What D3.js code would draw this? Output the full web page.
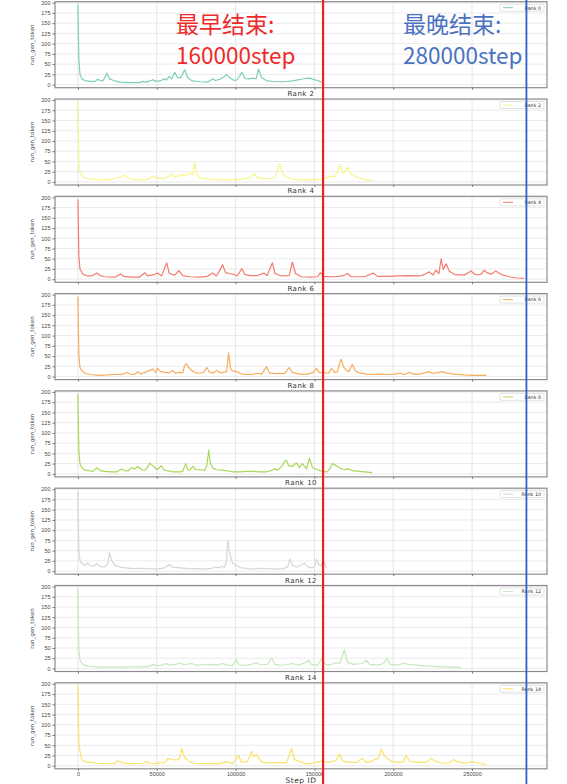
<!DOCTYPE html>
<html><head><meta charset="utf-8">
<script src="https://cdn.jsdelivr.net/npm/d3@7"></script>
<style>body{margin:0;background:#fff;overflow:hidden} svg{display:block}</style>
</head><body>
<script>
// ---- data (steps in thousands, value = run_gen_token) ----
const rankNames = ["Rank 0","Rank 2","Rank 4","Rank 6","Rank 8","Rank 10","Rank 12","Rank 14"];
const rankColors = ["#7dcfb6","#f6f68c","#f47c70","#f8ad5c","#a8d85a","#d6d6d6","#c6e8be","#fae36a"];

const rank0 = [[0,195],[0.3,120],[0.6,60],[1.3,25],[2.5,14],[4.4,10],[7.6,8],[10.8,8],[12.7,13],[14,10],[15.8,9],[18.4,28],[20,14],[23.4,9],[26.6,6],[33,5],[39,5],[41,8],[43,6],[45.6,9],[47.5,12],[49.4,8],[52,9],[55,14],[56,11],[58,20],[59.5,14],[61.4,30],[63,18],[65,16],[67.7,36],[69.6,18],[72,10],[77,7],[82,6],[85.5,14],[87,10],[90,13],[92.4,18],[94.3,25],[96,18],[99,10],[101,12],[104,30],[106,15],[108,14],[111,16],[113,14],[114.6,38],[116.5,17],[119.6,10],[124.7,7],[131,7],[136,9],[140.5,12],[143.7,15],[147,16],[149.4,13],[152,10],[154.5,6]];

const rank2 = [[0,195],[0.3,110],[0.6,50],[1.3,22],[3,12],[6,8],[11,6],[17,5],[21.5,6],[24.7,10],[27,12],[29.7,16],[31.6,10],[35,6],[42,5],[45.6,8],[47.5,15],[49.4,9],[52,10],[54.4,8],[57,12],[59.5,20],[61.4,12],[63.3,14],[65.8,18],[68.4,15],[71,22],[72.8,18],[74,48],[75.3,20],[77,10],[83.6,7],[90,5],[96,5],[102.5,6],[109,10],[112,20],[114,10],[118,8],[123,9],[125,12],[128,45],[130,18],[133,12],[136,7],[140.5,5],[147,5],[153,6],[157.6,10],[160.8,14],[163,12],[166.5,42],[168,20],[171,36],[173.5,18],[176.6,12],[180,8],[183.6,5],[187.4,3]];

const rank4 = [[0,195],[0.3,120],[0.6,55],[1.3,25],[3.2,12],[6.3,8],[9.5,9],[12,15],[14,9],[17,6],[23.4,5],[27,13],[29,7],[34,5],[39,5],[42.4,16],[44,8],[48.7,12],[50.6,15],[53,8],[56.3,40],[58,14],[61.4,10],[64,21],[66.5,9],[71,6],[77,5],[82,7],[85.5,15],[88,8],[91.8,35],[93.7,16],[96,14],[98.7,12],[101,8],[104,26],[105.7,12],[109,9],[114,9],[118,15],[120,9],[123.4,40],[125,14],[129,8],[134,9],[136,42],[138,14],[141.8,6],[147,5],[152,6],[153.8,16],[155.7,7],[162.7,6],[168,8],[171,14],[173.4,6],[181.7,6],[187.4,15],[190,7],[197.5,7],[204,8],[210,9],[216.5,8],[220,12],[222.8,18],[225.3,10],[227,22],[229,14],[230.4,50],[231.7,24],[233.6,38],[235.5,20],[238.6,12],[245,10],[249.4,20],[252,11],[255.7,12],[257.6,22],[259.5,16],[262,12],[265,20],[268.4,12],[273.5,6],[278.5,3],[283,2]];

const rank6 = [[0,195],[0.3,115],[0.6,50],[1.3,22],[2.5,14],[4.4,8],[7.6,5],[10.8,4],[14,3],[18.4,4],[21.5,5],[25,5],[28.5,6],[31,10],[33,6],[36,5],[38,12],[40,6],[43.7,12],[45.6,15],[47.5,18],[49.4,10],[50.6,20],[52.5,12],[55,10],[58,9],[60,15],[62,8],[64.6,10],[66.5,9],[67.7,28],[69,31],[70.3,22],[72,15],[74.7,9],[77,8],[79.8,10],[81.7,22],[83.6,10],[86,9],[88,15],[90.5,9],[94.3,12],[95.6,58],[96.8,20],[98,14],[100.6,12],[104,6],[107.6,5],[110.8,5],[114,8],[116.5,6],[119.6,24],[121.5,9],[124.7,7],[128,8],[131,7],[134,22],[136,10],[140.5,6],[145.6,6],[149.4,10],[151.3,20],[153,10],[156.4,9],[159,8],[160.8,20],[162.7,10],[164.6,12],[165.8,30],[167,42],[168.4,24],[170,16],[172,12],[174,30],[176,14],[178.5,9],[183,6],[188,5],[192.4,6],[196,5],[200.7,6],[204.5,8],[207,5],[210,10],[213,6],[216.5,6],[221,10],[222.8,12],[224.7,8],[228,9],[231,12],[233.6,9],[238.6,6],[245,4],[251,3],[259,3]];

const rank8 = [[0,195],[0.3,115],[0.6,55],[1.3,24],[2.5,15],[4.4,9],[7.6,7],[9.5,6],[12,15],[14,8],[17,6],[21.5,5],[24.7,5],[27.8,12],[29.7,8],[31.7,7],[34,15],[36,12],[38,18],[40.5,10],[42.4,9],[43.7,14],[45.6,26],[47.5,20],[50,10],[53,20],[54.4,10],[56.3,8],[60,5],[64.6,5],[66.5,6],[68.4,25],[69.6,10],[71,9],[72.8,18],[74.7,10],[78.5,10],[80.4,8],[81.7,20],[83,58],[84,25],[85.5,14],[88,10],[91,9],[94.3,8],[98,5],[102.5,5],[107,6],[110.8,6],[115,5],[119.6,5],[122.8,8],[124.7,12],[126.6,9],[128,14],[129.8,20],[131,30],[132.3,33],[133.6,20],[136,18],[138.6,27],[140.5,15],[142.4,25],[145,12],[146.9,38],[148.8,15],[152,10],[155,6],[158,5],[160,14],[161.4,25],[164,20],[165.8,15],[169,10],[171,12],[174,8],[178.5,6],[182,5],[186.7,3]];

const rank10 = [[0,195],[0.3,110],[0.6,50],[1.3,25],[2.5,18],[4.4,14],[6.3,20],[7.6,14],[9.5,12],[12,18],[14,12],[15.8,10],[17.7,12],[19,20],[20,45],[21.5,25],[23.4,14],[26.6,10],[30,8],[35,6],[40,7],[45,6],[50,5],[55,8],[58,16],[60,10],[65,8],[70,6],[75,6],[80,5],[85,7],[87,10],[89,8],[91,12],[93,9],[94.3,25],[95,75],[96.5,40],[98,20],[101,12],[104,8],[108,6],[112,5],[116,7],[120,6],[125,5],[130,6],[133,10],[134.5,30],[136,14],[139,10],[142,16],[143.6,20],[145,12],[148,8],[150,10],[151.3,30],[152.5,18],[154,12],[155.5,28],[157.6,8]];

const rank12 = [[0,195],[0.3,110],[0.6,45],[1.3,20],[2.5,12],[4.4,8],[7.6,5],[12,4],[18,3],[25,3],[32,4],[40,4],[45,5],[48,10],[50,6],[53,8],[56,12],[58,8],[62,10],[65,14],[67,9],[72,12],[75,8],[80,9],[85,10],[88,8],[92,12],[95,8],[98,7],[100.5,22],[102,9],[106,7],[110,10],[113,14],[116,9],[120,10],[123,25],[125,10],[128,8],[132,9],[136,12],[140,8],[144,14],[146.5,20],[148,10],[152,8],[155,26],[156.5,12],[158,8],[161,10],[163,14],[166,12],[169,45],[171,14],[175,10],[180,12],[183,20],[185,10],[190,8],[194,12],[196,25],[198,10],[203,8],[207,14],[209,10],[215,8],[220,6],[226,5],[232,4],[240,3],[243,2]];

const rank14 = [[0,195],[0.3,120],[0.6,60],[1.3,35],[2.5,14],[4.4,10],[7,8],[9.5,8],[12,6],[15.8,5],[20,5],[23.4,6],[25.3,12],[27.8,8],[31,5],[36,5],[41,6],[43.7,10],[45.6,6],[50,5],[52,8],[53.8,6],[56.3,12],[57,18],[59.5,15],[62.7,14],[64.6,18],[65.8,42],[67.7,20],[71,10],[74,6],[77,5],[83.6,5],[90,5],[94.3,10],[98,5],[102,25],[103.8,8],[107.6,10],[110,35],[111.4,22],[113.3,28],[114.6,18],[117,8],[121.5,7],[127.9,8],[132.3,7],[135.5,42],[137.4,15],[140.5,10],[143.7,6],[146.9,5],[151.3,8],[155,12],[157.6,8],[161.4,10],[164,14],[165.8,30],[167.7,12],[172,8],[177,8],[180.4,18],[183,8],[186,10],[188,15],[190.5,18],[192.4,40],[194.3,25],[196,18],[199,10],[203.8,8],[206.4,9],[208,25],[210.8,10],[216.5,8],[221,8],[224,18],[226,12],[231,6],[235.5,6],[238,15],[240.5,10],[246,6],[250,10],[254.5,6],[259,3]];

const seriesList = [rank0, rank2, rank4, rank6, rank8, rank10, rank12, rank14];

const yTicks = [0, 25, 50, 75, 100, 125, 150, 175, 200];
const xTicks = [0, 50, 100, 150, 200, 250];            // thousands of steps
const xTickLabels = ["0", "50000", "100000", "150000", "200000", "250000"];
const markerSteps = [155.5, 284.5];                     // earliest / latest finish lines (thousands)
const markerColors = ["#f21d1d", "#2d5fcf"];
const noteLines = [["最早结束:", "160000step"], ["最晚结束:", "280000step"]];
const noteColors = ["#ef2a2a", "#4b72c2"];
const yLabel = "run_gen_token";
const xLabel = "Step ID";

// ---- layout ----
const W = 567, H = 784;
const L = 55, R = 547, panelH = 86, panelStep = 97.3, firstTop = 1.7;

const svg = d3.select("body").append("svg").attr("width", W).attr("height", H)
  .style("font-family", "'DejaVu Sans', sans-serif");

const maxStep = d3.max(seriesList, s => d3.max(s, d => d[0]));
const pad = maxStep * 0.05;
const x = d3.scaleLinear().domain([-pad - 0.4, maxStep + pad + 0.4]).range([L, R]);

seriesList.forEach((data, i) => {
  const top = firstTop + i * panelStep;
  const y = d3.scaleLinear().domain([-7.5, 202.5]).range([top + panelH, top]);
  const g = svg.append("g");

  g.append("rect").attr("x", L).attr("y", top).attr("width", R - L).attr("height", panelH)
    .attr("fill", "#fff");

  g.selectAll(".hg").data(yTicks).enter().append("line")
    .attr("x1", L).attr("x2", R).attr("y1", d => y(d)).attr("y2", d => y(d))
    .attr("stroke", "#e6e6e6").attr("stroke-width", 0.8);
  g.selectAll(".vg").data(xTicks).enter().append("line")
    .attr("x1", d => x(d)).attr("x2", d => x(d)).attr("y1", top).attr("y2", top + panelH)
    .attr("stroke", "#e0e0e0").attr("stroke-width", 0.8);

  const line = d3.line().x(d => x(d[0])).y(d => y(d[1]));
  g.append("path").datum(data).attr("d", line).attr("fill", "none")
    .attr("stroke", rankColors[i]).attr("stroke-width", 1.2).attr("stroke-linejoin", "round");

  g.append("rect").attr("x", L).attr("y", top).attr("width", R - L).attr("height", panelH)
    .attr("fill", "none").attr("stroke", "#8c8c8c").attr("stroke-width", 1.2);

  const ya = d3.axisLeft(y).tickValues(yTicks).tickSize(2.5).tickPadding(2);
  const yg = g.append("g").attr("transform", `translate(${L},0)`).call(ya);
  yg.select(".domain").remove();
  yg.selectAll("line").attr("stroke", "#777");
  yg.selectAll("text").attr("font-size", 5.5).attr("fill", "#444");

  const xa = d3.axisBottom(x).tickValues(xTicks).tickSize(2).tickPadding(1)
    .tickFormat((d, j) => i === seriesList.length - 1 ? xTickLabels[j] : "");
  const xg = g.append("g").attr("transform", `translate(0,${top + panelH})`).call(xa);
  xg.select(".domain").remove();
  xg.selectAll("line").attr("stroke", "#777");
  xg.selectAll("text").attr("font-size", 5.5).attr("fill", "#444");

  g.append("text").attr("transform", `translate(34,${top + panelH / 2}) rotate(-90)`)
    .attr("text-anchor", "middle").attr("font-size", 5.5).attr("fill", "#444").text(yLabel);

  g.append("text").attr("x", (L + R) / 2).attr("y", top - 3).attr("text-anchor", "middle")
    .attr("font-size", 7).attr("fill", "#333").attr("letter-spacing", 0.5).text(rankNames[i]);

  const lg = g.append("g").attr("transform", `translate(${R - 47},${top + 2.5})`);
  lg.append("rect").attr("width", 44).attr("height", 7).attr("fill", "#fff")
    .attr("stroke", "#d0d0d0").attr("stroke-width", 0.6).attr("rx", 1);
  lg.append("line").attr("x1", 3).attr("x2", 13).attr("y1", 3.5).attr("y2", 3.5)
    .attr("stroke", rankColors[i]).attr("stroke-width", 1);
  lg.append("text").attr("x", 41).attr("y", 5.4).attr("text-anchor", "end")
    .attr("font-size", 4.8).attr("fill", "#333").text(rankNames[i]);
});

svg.append("text").attr("x", 301).attr("y", 783).attr("text-anchor", "middle")
  .attr("font-size", 7.5).attr("fill", "#333").attr("letter-spacing", 0.5).text(xLabel);

svg.selectAll(".mk").data(markerSteps).enter().append("line")
  .attr("x1", d => x(d)).attr("x2", d => x(d)).attr("y1", 0).attr("y2", H)
  .attr("stroke", (d, i) => markerColors[i]).attr("stroke-width", (d, i) => i === 0 ? 2.2 : 1.8);

const noteX = [176, 403];
noteLines.forEach((lines, i) => {
  const t = svg.append("text").attr("fill", noteColors[i])
    .style("font-family", "'Noto Sans CJK SC', 'Noto Sans', sans-serif");
  t.append("tspan").attr("x", noteX[i]).attr("y", 33).attr("font-size", 23).text(lines[0]);
  t.append("tspan").attr("x", noteX[i]).attr("y", 64).attr("font-size", 22.5).text(lines[1]);
});
</script>
</body></html>
